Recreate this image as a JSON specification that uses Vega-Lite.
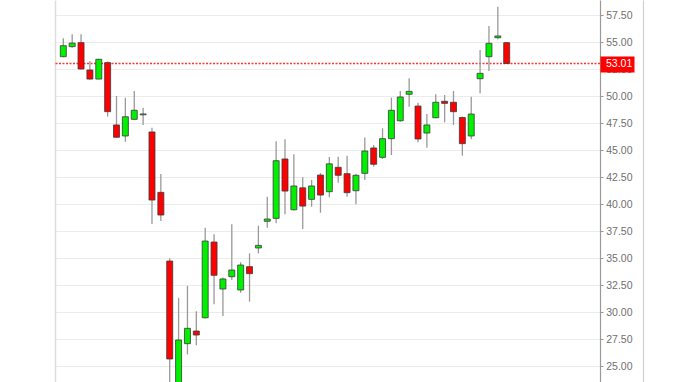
{
  "$schema": "https://vega.github.io/schema/vega-lite/v6.json",
  "width": 545,
  "height": 382,
  "autosize": {"type": "none"},
  "padding": {"left": 55, "right": 100, "top": 0, "bottom": 0},
  "background": "white",
  "config": {
    "view": {"stroke": null},
    "axis": {"labelFont": "Liberation Sans", "title": null}
  },
  "datasets": {
    "last": [{"price": 53.01}],
    "candles": [
      {"date": "2019-12-02", "open": 53.64, "high": 55.34, "low": 53.6, "close": 54.66},
      {"date": "2019-12-09", "open": 54.57, "high": 55.71, "low": 54.47, "close": 54.9},
      {"date": "2019-12-16", "open": 54.94, "high": 55.71, "low": 52.45, "close": 52.5},
      {"date": "2019-12-23", "open": 52.41, "high": 53.24, "low": 51.5, "close": 51.57},
      {"date": "2019-12-30", "open": 51.57, "high": 53.45, "low": 51.55, "close": 53.4},
      {"date": "2020-01-06", "open": 53.09, "high": 53.2, "low": 48.1, "close": 48.55},
      {"date": "2020-01-13", "open": 47.32, "high": 50.0, "low": 46.15, "close": 46.18},
      {"date": "2020-01-20", "open": 46.3, "high": 49.84, "low": 45.77, "close": 48.08},
      {"date": "2020-01-27", "open": 47.84, "high": 50.46, "low": 47.8, "close": 48.68},
      {"date": "2020-02-03", "open": 48.26, "high": 48.92, "low": 47.32, "close": 48.34},
      {"date": "2020-02-10", "open": 46.67, "high": 47.07, "low": 38.15, "close": 40.37},
      {"date": "2020-02-17", "open": 41.08, "high": 42.78, "low": 38.43, "close": 38.98},
      {"date": "2020-02-24", "open": 34.72, "high": 34.97, "low": 22.5, "close": 25.65},
      {"date": "2020-03-02", "open": 22.8, "high": 31.32, "low": 22.0, "close": 27.41},
      {"date": "2020-03-09", "open": 27.07, "high": 32.43, "low": 26.08, "close": 28.49},
      {"date": "2020-03-16", "open": 28.24, "high": 30.06, "low": 26.92, "close": 27.87},
      {"date": "2020-03-23", "open": 29.47, "high": 37.8, "low": 29.4, "close": 36.57},
      {"date": "2020-03-30", "open": 36.48, "high": 37.19, "low": 30.71, "close": 33.4},
      {"date": "2020-04-06", "open": 32.13, "high": 33.2, "low": 29.63, "close": 33.06},
      {"date": "2020-04-13", "open": 33.27, "high": 38.12, "low": 32.96, "close": 33.89},
      {"date": "2020-04-20", "open": 32.04, "high": 34.6, "low": 31.79, "close": 34.35},
      {"date": "2020-04-27", "open": 34.2, "high": 35.43, "low": 30.96, "close": 33.55},
      {"date": "2020-05-04", "open": 35.93, "high": 37.99, "low": 35.43, "close": 36.17},
      {"date": "2020-05-11", "open": 38.4, "high": 40.68, "low": 37.81, "close": 38.61},
      {"date": "2020-05-18", "open": 38.67, "high": 45.8, "low": 38.21, "close": 44.01},
      {"date": "2020-05-25", "open": 44.17, "high": 46.0, "low": 39.05, "close": 41.2},
      {"date": "2020-06-01", "open": 39.47, "high": 44.6, "low": 39.4, "close": 41.67},
      {"date": "2020-06-08", "open": 41.5, "high": 42.47, "low": 37.69, "close": 39.81},
      {"date": "2020-06-15", "open": 40.43, "high": 42.22, "low": 39.75, "close": 41.67},
      {"date": "2020-06-22", "open": 42.68, "high": 42.87, "low": 39.2, "close": 40.83},
      {"date": "2020-06-29", "open": 41.14, "high": 44.35, "low": 40.62, "close": 43.72},
      {"date": "2020-07-06", "open": 43.4, "high": 44.38, "low": 41.97, "close": 42.66},
      {"date": "2020-07-13", "open": 42.81, "high": 44.47, "low": 40.68, "close": 41.05},
      {"date": "2020-07-20", "open": 41.23, "high": 42.8, "low": 39.97, "close": 42.66},
      {"date": "2020-07-27", "open": 42.84, "high": 46.17, "low": 42.22, "close": 44.91},
      {"date": "2020-08-03", "open": 45.19, "high": 45.46, "low": 43.46, "close": 43.68},
      {"date": "2020-08-10", "open": 44.32, "high": 47.01, "low": 44.17, "close": 46.05},
      {"date": "2020-08-17", "open": 46.05, "high": 49.85, "low": 44.54, "close": 48.68},
      {"date": "2020-08-24", "open": 47.71, "high": 50.46, "low": 47.62, "close": 49.91},
      {"date": "2020-08-31", "open": 50.16, "high": 51.64, "low": 49.01, "close": 50.43},
      {"date": "2020-09-07", "open": 49.07, "high": 49.38, "low": 45.71, "close": 46.02},
      {"date": "2020-09-14", "open": 46.57, "high": 48.33, "low": 45.22, "close": 47.32},
      {"date": "2020-09-21", "open": 47.99, "high": 50.16, "low": 47.93, "close": 49.42},
      {"date": "2020-09-28", "open": 49.51, "high": 50.09, "low": 47.56, "close": 49.32},
      {"date": "2020-10-05", "open": 49.42, "high": 50.46, "low": 47.32, "close": 48.55},
      {"date": "2020-10-12", "open": 48.01, "high": 48.1, "low": 44.48, "close": 45.59},
      {"date": "2020-10-19", "open": 46.3, "high": 49.94, "low": 45.99, "close": 48.33},
      {"date": "2020-10-26", "open": 51.6, "high": 54.26, "low": 50.25, "close": 52.1},
      {"date": "2020-11-02", "open": 53.64, "high": 56.48, "low": 52.31, "close": 54.88},
      {"date": "2020-11-09", "open": 55.4, "high": 58.27, "low": 55.25, "close": 55.56},
      {"date": "2020-11-16", "open": 54.94, "high": 55.0, "low": 53.01, "close": 53.01}
    ]
  },
  "resolve": {"axis": {"y": "independent"}},
  "layer": [
    {
      "data": {"name": "last"},
      "mark": {"type": "rule", "color": "#ff2020", "stroke": "#ff2020", "strokeDash": [2, 1.5], "strokeWidth": 1.4, "opacity": 0.9},
      "encoding": {
        "y": {
          "field": "price", "type": "quantitative",
          "scale": {"domain": [23.52, 58.89], "nice": false, "zero": false},
          "axis": {
            "orient": "right", "values": [53.01], "format": ".2f", "zindex": 2,
            "grid": false, "domain": false,
            "tickColor": "#ff0000", "tickSize": 34, "tickWidth": 16, "tickCap": "butt",
            "labelColor": "#ffffff", "labelFontSize": 10.5, "labelPadding": -28.5
          }
        }
      }
    },
    {
      "data": {"name": "candles"},
      "mark": {"type": "rule", "color": "#999999", "strokeWidth": 1.3, "clip": true},
      "encoding": {
        "x": {
          "field": "date", "type": "temporal",
          "scale": {"type": "utc", "padding": 0, "domain": [
            {"year": 2019, "month": 11, "date": 25, "hours": 10, "minutes": 48, "utc": true},
            {"year": 2021, "month": 1, "date": 28, "hours": 15, "minutes": 36, "utc": true}
          ]},
          "axis": {
            "values": [
              {"year": 2019, "month": 12, "date": 30, "hours": 10, "utc": true},
              {"year": 2020, "month": 2, "date": 25, "hours": 13, "minutes": 40, "utc": true},
              {"year": 2020, "month": 4, "date": 28, "hours": 3, "minutes": 50, "utc": true},
              {"year": 2020, "month": 6, "date": 29, "hours": 21, "minutes": 50, "utc": true},
              {"year": 2020, "month": 8, "date": 31, "hours": 16, "minutes": 5, "utc": true},
              {"year": 2020, "month": 10, "date": 27, "hours": 6, "minutes": 15, "utc": true},
              {"year": 2020, "month": 12, "date": 29, "hours": 21, "minutes": 20, "utc": true}
            ],
            "labels": false, "ticks": false, "domain": false,
            "grid": true, "gridColor": "#ececec", "gridWidth": 1
          }
        },
        "y": {
          "field": "low", "type": "quantitative",
          "scale": {"domain": [23.52, 58.89], "nice": false, "zero": false},
          "axis": {
            "orient": "right", "zindex": 0,
            "values": [25, 27.5, 30, 32.5, 35, 37.5, 40, 42.5, 45, 47.5, 50, 52.5, 55, 57.5],
            "format": ".2f",
            "grid": true, "gridColor": "#ececec", "gridWidth": 1,
            "domainColor": "#999999", "domainWidth": 1.2,
            "tickColor": "#999999", "tickSize": 3,
            "labelColor": "#707070", "labelFontSize": 10.5, "labelPadding": 2.7
          }
        },
        "y2": {"field": "high"}
      }
    },
    {
      "data": {"name": "candles"},
      "transform": [{"filter": "datum.close >= datum.open"}],
      "mark": {"type": "bar", "size": 6, "color": "#00f000", "stroke": "#3a3a3a", "strokeWidth": 0.8, "clip": true},
      "encoding": {
        "x": {
          "field": "date", "type": "temporal",
          "scale": {"type": "utc", "padding": 0, "domain": [
            {"year": 2019, "month": 11, "date": 25, "hours": 10, "minutes": 48, "utc": true},
            {"year": 2021, "month": 1, "date": 28, "hours": 15, "minutes": 36, "utc": true}
          ]},
          "axis": null
        },
        "y": {
          "field": "open", "type": "quantitative",
          "scale": {"domain": [23.52, 58.89], "nice": false, "zero": false},
          "axis": {"orient": "left", "labels": false, "ticks": false, "grid": false, "domainColor": "#dddddd", "domainWidth": 1.5}
        },
        "y2": {"field": "close"}
      }
    },
    {
      "data": {"name": "candles"},
      "transform": [{"filter": "datum.close < datum.open"}],
      "mark": {"type": "bar", "size": 6, "color": "#ff0000", "stroke": "#3a3a3a", "strokeWidth": 0.8, "clip": true},
      "encoding": {
        "x": {
          "field": "date", "type": "temporal",
          "scale": {"type": "utc", "padding": 0, "domain": [
            {"year": 2019, "month": 11, "date": 25, "hours": 10, "minutes": 48, "utc": true},
            {"year": 2021, "month": 1, "date": 28, "hours": 15, "minutes": 36, "utc": true}
          ]},
          "axis": null
        },
        "y": {
          "field": "open", "type": "quantitative",
          "scale": {"domain": [23.52, 58.89], "nice": false, "zero": false},
          "axis": {"orient": "right", "offset": 43, "labels": false, "ticks": false, "grid": false, "domainColor": "#d0d0d0", "domainWidth": 1.2}
        },
        "y2": {"field": "close"}
      }
    }
  ]
}
